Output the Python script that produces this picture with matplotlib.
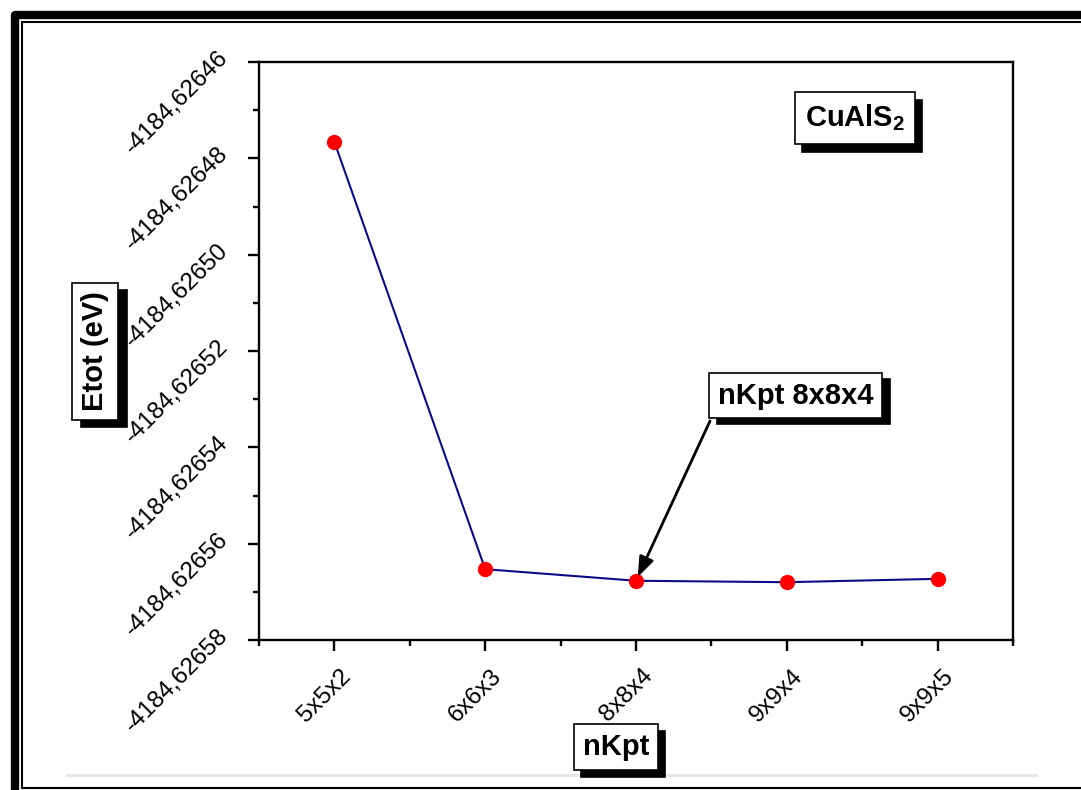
import numpy as np
import matplotlib
matplotlib.use('Agg')
import matplotlib.pyplot as plt
import matplotlib.transforms as mtransforms
from matplotlib.ticker import FixedLocator, FuncFormatter

plt.rcParams['font.family'] = ['Liberation Sans', 'DejaVu Sans']
plt.rcParams['mathtext.fontset'] = 'custom'
plt.rcParams['mathtext.rm'] = 'Liberation Sans'
plt.rcParams['mathtext.bf'] = 'Liberation Sans:bold'

# k-point grids and total energies (eV)
kpts = ['5x5x2', '6x6x3', '8x8x4', '9x9x4', '9x9x5']
etot = [-4184.6264766, -4184.6265653, -4184.6265677, -4184.6265680, -4184.6265673]
yticks = [-4184.62658, -4184.62656, -4184.62654, -4184.62652,
          -4184.62650, -4184.62648, -4184.62646]

W, H, DPI = 1081, 790, 100
fig = plt.figure(figsize=(W / DPI, H / DPI), dpi=DPI)

# background layer in pixel coordinates for the frame
bg = fig.add_axes([0, 0, 1, 1], zorder=-1)
bg.set_xlim(0, W)
bg.set_ylim(H, 0)
bg.axis('off')
bg.plot([15, 15, W + 5], [H + 5, 15, 15], color='k', lw=6.0, solid_capstyle='butt')
bg.plot([15, W + 5], [793, 793], color='k', lw=6.0)
bg.plot([22, 22, W + 5], [787.5, 22, 22], color='k', lw=1.5, solid_joinstyle='miter')
bg.plot([22, W + 5], [787.5, 787.5], color='k', lw=1.5)
bg.plot([67, 1036], [775, 775], color='#e6e6e6', lw=2.0)

ax = fig.add_axes([259 / W, 1 - 640 / H, (1013 - 259) / W, (640 - 62) / H])
ax.set_facecolor('none')

x = np.arange(len(kpts))
ax.plot(x, etot, color='#0b0b8a', lw=1.5, zorder=2)
ax.plot(x, etot, 'o', color='#ff0000', ms=10, mec='#ff0000', zorder=3)

ax.set_xlim(-0.5, len(kpts) - 0.5)
ax.set_ylim(yticks[0], yticks[-1])
ax.xaxis.set_major_locator(FixedLocator(x))
ax.xaxis.set_minor_locator(FixedLocator(np.arange(-0.5, len(kpts), 1.0)))
ax.set_xticklabels(kpts)
ax.yaxis.set_major_locator(FixedLocator(yticks))
ax.yaxis.set_minor_locator(FixedLocator(np.array(yticks[:-1]) + 0.00001))
ax.yaxis.set_major_formatter(FuncFormatter(lambda v, p: f'{v:.5f}'.replace('.', ',')))

for s in ax.spines.values():
    s.set_linewidth(1.7)
ax.tick_params(which='major', direction='out', length=8, width=1.7, labelsize=17.5)
ax.tick_params(which='minor', direction='out', length=4.3, width=1.7)
ax.tick_params(axis='y', which='major', pad=16.5)
ax.tick_params(axis='x', which='major', pad=15.5)
ax.tick_params(top=False, right=False, which='both')

for lab in ax.get_yticklabels():
    lab.set_rotation(45)
    lab.set_ha('right')
    lab.set_va('center')
    lab.set_rotation_mode('anchor')
    lab.set_transform(lab.get_transform() +
                      mtransforms.ScaledTranslation(0, 7.5 / DPI, fig.dpi_scale_trans))
for lab in ax.get_xticklabels():
    lab.set_rotation(45)
    lab.set_ha('right')
    lab.set_va('center')
    lab.set_rotation_mode('anchor')
    lab.set_transform(lab.get_transform() +
                      mtransforms.ScaledTranslation(13 / DPI, 0, fig.dpi_scale_trans))


def shadow_box(px, py, txt, dx=8, dy=7, rot=0, pad=0.3):
    # boxed bold label with a solid black drop shadow, placed in pixels
    kw = dict(ha='center', va='center', fontsize=21, fontweight='bold',
              rotation=rot, transform=bg.transData)
    sh = mtransforms.offset_copy(bg.transData, fig=fig, x=dx, y=-dy, units='dots')
    box = 'square,pad=%.2f' % pad
    fig.text(px, py, txt, color='k', zorder=4,
             bbox=dict(boxstyle=box, fc='k', ec='k', lw=1.2),
             **{**kw, 'transform': sh})
    fig.text(px, py, txt, color='k', zorder=5,
             bbox=dict(boxstyle=box, fc='white', ec='k', lw=1.2), **kw)


shadow_box(855, 118, r'CuAlS$_\mathbf{2}$', dx=7, dy=8, pad=0.35)
shadow_box(795.5, 395.5, 'nKpt 8x8x4', dx=8, dy=6)
shadow_box(95, 351.5, 'Etot (eV)', dx=9, dy=7, rot=90)
shadow_box(616, 747, 'nKpt', dx=7, dy=7)

ax.annotate('', xy=(2, etot[2]), xycoords='data',
            xytext=(710, 421), textcoords=bg.transData,
            arrowprops=dict(arrowstyle='-|>,head_length=0.8,head_width=0.3',
                            color='k', lw=2, mutation_scale=15,
                            shrinkA=0, shrinkB=3))

fig.savefig('out.png', dpi=DPI)
